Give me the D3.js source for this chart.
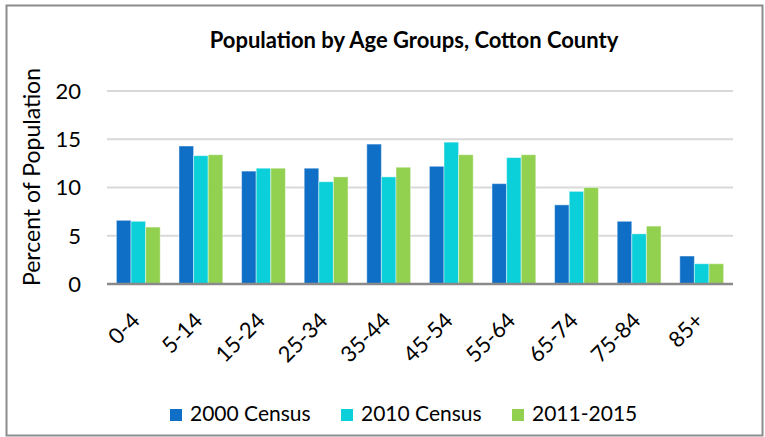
<!DOCTYPE html>
<html>
<head>
<meta charset="utf-8">
<script src="https://cdn.jsdelivr.net/npm/d3@7"></script>
<style>
  body { margin: 0; background: #fff; }
  svg text { font-family: Lato, "Open Sans", sans-serif; fill: #000; }
</style>
</head>
<body>
<svg id="chart"></svg>
<script>
//DATA
const ageGroups = ["0-4", "5-14", "15-24", "25-34", "35-44", "45-54", "55-64", "65-74", "75-84", "85+"];
const seriesNames = ["2000 Census", "2010 Census", "2011-2015"];
const census2000 = [6.6, 14.3, 11.7, 12.0, 14.5, 12.2, 10.4, 8.2, 6.5, 2.9];
const census2010 = [6.5, 13.3, 12.0, 10.6, 11.1, 14.7, 13.1, 9.6, 5.2, 2.1];
const acs20112015 = [5.9, 13.4, 12.0, 11.1, 12.1, 13.4, 13.4, 10.0, 6.0, 2.1];
const yTicks = [0, 5, 10, 15, 20];
const colors = ["#0F6FC6", "#0BD0D9", "#92D050"];

const width = 765;
const height = 437;
const plot = {left: 107, right: 733, top: 91, bottom: 284};

const chart = d3.select("#chart")
  .attr("width", width)
  .attr("height", height);

//outer frame
chart.append("rect")
  .attr("x", 6.5).attr("y", 5.5)
  .attr("width", 756).attr("height", 430)
  .attr("fill", "#fff")
  .attr("stroke", "#8c8c8c")
  .attr("stroke-width", 2);

const allSeries = [census2000, census2010, acs20112015];

const xScale = d3.scaleBand()
  .domain(ageGroups)
  .range([plot.left, plot.right])
  .paddingInner(0.3)
  .paddingOuter(0.15);

const xInner = d3.scaleBand()
  .domain(seriesNames)
  .range([0, xScale.bandwidth()]);

const yScale = d3.scaleLinear()
  .domain([0, 20])
  .range([plot.bottom, plot.top]);

//gridlines
chart.append("g")
  .selectAll("line").data(yTicks.slice(1)).enter().append("line")
  .attr("x1", plot.left).attr("x2", plot.right)
  .attr("y1", d => yScale(d)).attr("y2", d => yScale(d))
  .attr("stroke", "#d9d9d9")
  .attr("stroke-width", 2);

//y tick labels
chart.append("g")
  .selectAll("text").data(yTicks).enter().append("text")
  .attr("x", 81)
  .attr("y", d => yScale(d))
  .attr("dy", "0.36em")
  .attr("text-anchor", "end")
  .style("font-size", "22px")
  .text(d => d);

//bars
const groups = chart.append("g")
  .selectAll("g").data(ageGroups).enter().append("g")
  .attr("transform", d => "translate(" + xScale(d) + ",0)");

groups.selectAll("rect")
  .data((d, i) => seriesNames.map((s, j) => ({series: s, value: allSeries[j][i], idx: j})))
  .enter().append("rect")
  .attr("x", d => xInner(d.series))
  .attr("width", xInner.bandwidth())
  .attr("y", d => yScale(d.value))
  .attr("height", d => yScale(0) - yScale(d.value))
  .attr("fill", d => colors[d.idx])
  .attr("stroke", "#ffffff")
  .attr("stroke-opacity", 0.45)
  .attr("stroke-width", 1);

//baseline
chart.append("line")
  .attr("x1", plot.left).attr("x2", plot.right)
  .attr("y1", yScale(0)).attr("y2", yScale(0))
  .attr("stroke", "#8a8a8a")
  .attr("stroke-width", 2.5);

//x labels rotated
chart.append("g")
  .selectAll("text").data(ageGroups).enter().append("text")
  .attr("transform", d => "translate(" + (xScale(d) + xScale.bandwidth() / 2 + 3) + ",322) rotate(-45)")
  .attr("text-anchor", "end")
  .style("font-size", "22px")
  .text(d => d);

//axis title
chart.append("text")
  .attr("transform", "translate(40,177) rotate(-90)")
  .attr("text-anchor", "middle")
  .style("font-size", "23px")
  .text("Percent of Population");

//chart title
chart.append("text")
  .attr("x", 414)
  .attr("y", 48)
  .attr("text-anchor", "middle")
  .style("font-size", "22px")
  .style("font-weight", "bold")
  .text("Population by Age Groups, Cotton County");

//legend
const legendX = [170, 341, 512];
const legend = chart.append("g")
  .selectAll("g").data(seriesNames).enter().append("g")
  .attr("transform", (d, i) => "translate(" + legendX[i] + ",409)");

legend.append("rect")
  .attr("width", 12).attr("height", 12)
  .attr("fill", (d, i) => colors[i]);

legend.append("text")
  .attr("x", 20)
  .attr("y", 12)
  .style("font-size", "21px")
  .text(d => d);
</script>
</body>
</html>
